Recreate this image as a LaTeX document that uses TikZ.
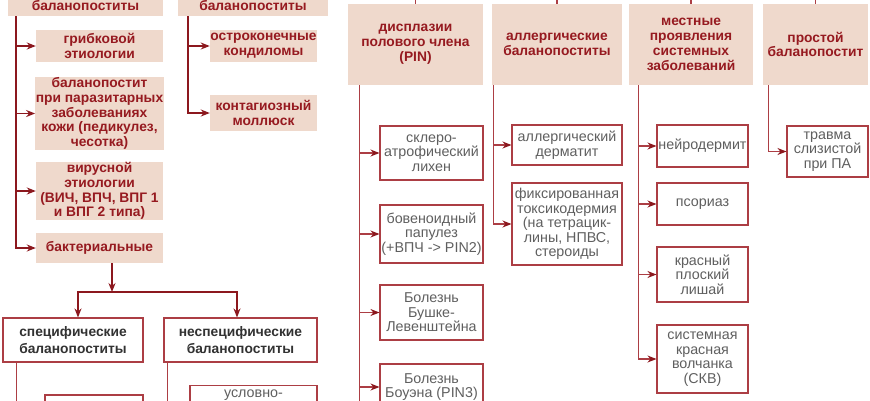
\documentclass[tikz,border=0pt]{standalone}
\usepackage{fontspec}
\setmainfont{Liberation Sans}
\usetikzlibrary{arrows.meta}
\definecolor{boxfill}{RGB}{239,217,204}
\definecolor{headred}{RGB}{150,26,32}
\definecolor{linered}{RGB}{140,24,30}
\definecolor{framered}{RGB}{172,62,68}
\definecolor{itemgray}{RGB}{95,95,95}
\definecolor{kindtext}{RGB}{50,50,50}
\tikzset{
  grp/.style={fill=boxfill,text=headred,align=center,inner sep=0.5pt,font=\fontsize{13.8}{14.8}\selectfont\bfseries},
  item/.style={draw=framered,line width=1.1pt,fill=white,text=itemgray,align=center,inner sep=1pt,font=\fontsize{14.3}{14.6}\selectfont},
  kind/.style={draw=framered,line width=1.1pt,fill=white,text=kindtext,align=center,inner sep=1pt,font=\fontsize{13.8}{17}\selectfont\bfseries},
  lnk/.style={draw=linered,line width=1.8pt},
  thin/.style={draw=framered,line width=1.1pt},
  arr/.style={lnk,-{Stealth[length=9pt,width=7pt]}},
  thinarr/.style={thin,-{Stealth[length=9pt,width=7pt,color=linered]}}
}
\begin{document}
\begin{tikzpicture}[x=1pt,y=-1pt]
\useasboundingbox (0,0) rectangle (870,400);
\coordinate (high) at (0,-4);
\coordinate (low) at (0,406);

\node[grp,minimum width=155,minimum height=20] (bacA) at (85.5,6) {баланопоститы};
\node[grp,minimum width=150,minimum height=20] (bacB) at (253,6) {баланопоститы};
\node[grp,minimum width=127,minimum height=32] (fung) at (99.5,46) {грибковой\\этиологии};
\node[grp,minimum width=127,minimum height=73] (para) at (99.5,113.5) {баланопостит\\при паразитарных\\заболеваниях\\кожи (педикулез,\\чесотка)};
\node[grp,minimum width=127,minimum height=58] (vir) at (99.5,191) {вирусной\\этиологии\\(ВИЧ, ВПЧ, ВПГ 1\\и ВПГ 2 типа)};
\node[grp,minimum width=127,minimum height=30] (bact) at (99.5,248) {бактериальные};
\node[grp,minimum width=107,minimum height=32] (cond) at (263.5,46) {остроконечные\\кондиломы};
\node[grp,minimum width=107,minimum height=36] (moll) at (263.5,113) {контагиозный\\моллюск};
\node[kind,minimum width=140,minimum height=44] (spc) at (73,340) {специфические\\баланопоститы};
\node[kind,minimum width=153,minimum height=44] (nspc) at (240.5,340) {неспецифические\\баланопоститы};
\node[item,minimum width=98,minimum height=40] (spc1) at (94,415) {};
\node[item,anchor=north,minimum width=127,inner ysep=4pt] (nspc1) at (253.5,385) {\rule[-30pt]{0pt}{30pt}условно-};

\node[grp,minimum width=135,minimum height=81] (pin) at (415.5,44.5) {дисплазии\\полового члена\\(PIN)};
\node[grp,minimum width=130,minimum height=81] (allg) at (557,44.5) {аллергические\\баланопоститы};
\node[grp,minimum width=124,minimum height=81] (syst) at (691,44.5) {местные\\проявления\\системных\\заболеваний};
\node[grp,minimum width=105,minimum height=81] (simp) at (815.5,44.5) {простой\\баланопостит};

\node[item,minimum width=103,minimum height=54] (lich) at (431.5,153) {склеро-\\атрофический\\лихен};
\node[item,minimum width=103,minimum height=58] (bowp) at (431.5,234) {бовеноидный\\папулез\\(+ВПЧ -> PIN2)};
\node[item,minimum width=103,minimum height=55] (busch) at (431.5,312.5) {Болезнь\\Бушке-\\Левенштейна};
\node[item,minimum width=103,minimum height=46] (bowen) at (431.5,387) {Болезнь\\Боуэна (PIN3)};
\node[item,minimum width=110,minimum height=40] (derm) at (567,145) {аллергический\\дерматит};
\node[item,minimum width=110,minimum height=82] (toxi) at (567,224) {фиксированная\\токсикодермия\\(на тетрацик-\\лины, НПВС,\\стероиды};
\node[item,minimum width=91,minimum height=42] (neur) at (702.5,146) {нейродермит};
\node[item,minimum width=91,minimum height=42] (psor) at (702.5,204) {псориаз};
\node[item,minimum width=91,minimum height=55] (flat) at (702.5,274.5) {красный\\плоский\\лишай};
\node[item,minimum width=91,minimum height=68] (sle) at (702.5,359) {системная\\красная\\волчанка\\(СКВ)};
\node[item,minimum width=81,minimum height=51] (trau) at (827.5,151.5) {травма\\слизистой\\при ПА};

\coordinate (ta) at ([xshift=8pt]bacA.south west);
\draw[arr] (ta) |- (bact.west);
\foreach \n in {fung,para,vir} \draw[arr] (ta |- \n.west) -- (\n.west);
\coordinate (tb) at ([xshift=10pt]bacB.south west);
\draw[arr] (tb) |- (moll.west);
\draw[arr] (tb |- cond.west) -- (cond.west);

\coordinate (split) at (112,292);
\draw[arr] (bact.south -| split) -- (split);
\draw[arr] (split) -| ([xshift=5pt]spc.north);
\draw[arr] (split) -| ([xshift=-3.5pt]nspc.north);
\coordinate (ts) at ([xshift=14pt]spc.south west);
\draw[thin] (ts) -- (ts |- low);
\coordinate (tn) at ([xshift=4pt]nspc.south west);
\draw[thin] (tn) -- (tn |- low);

\foreach \g in {pin,allg,syst,simp} \draw[thin] (\g.north) -- (\g.north |- high);
\coordinate (tp) at ([xshift=12pt]pin.south west);
\draw[thin] (tp) -- (tp |- low);
\foreach \n in {lich,bowp,busch,bowen} \draw[thinarr] (tp |- \n.west) -- (\n.west);
\coordinate (tg) at ([xshift=2pt]allg.south west);
\draw[thinarr] (tg) |- (toxi.west);
\draw[thinarr] (tg |- derm.west) -- (derm.west);
\coordinate (tm) at ([xshift=10pt]syst.south west);
\draw[thinarr] (tm) |- (sle.west);
\foreach \n in {neur,psor,flat} \draw[thinarr] (tm |- \n.west) -- (\n.west);
\coordinate (tq) at ([xshift=6pt]simp.south west);
\draw[thinarr] (tq) |- (trau.west);
\end{tikzpicture}
\end{document}
